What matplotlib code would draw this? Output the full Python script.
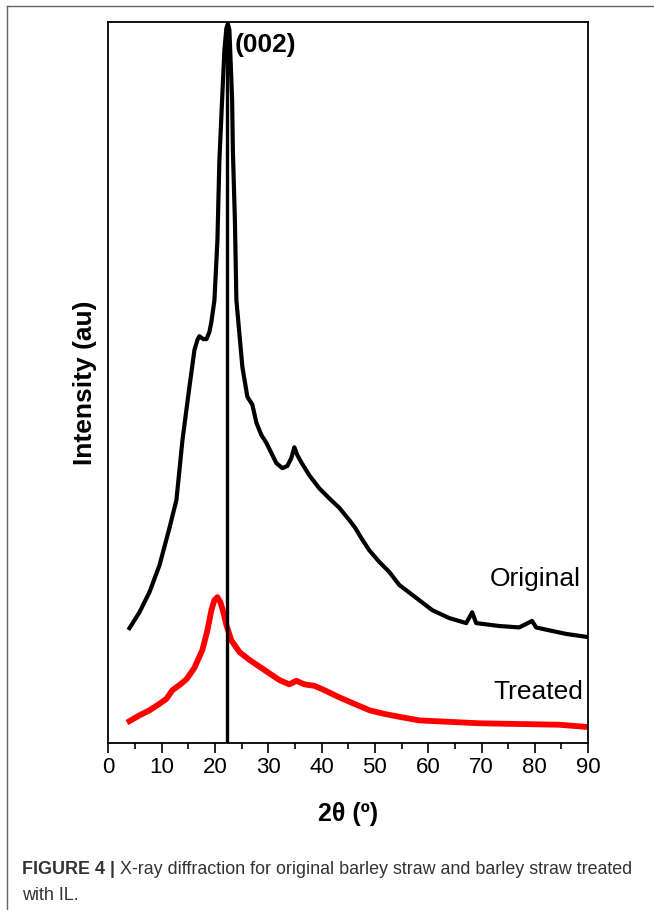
import matplotlib
matplotlib.use("Agg")
import matplotlib.pyplot as plt
from matplotlib.lines import Line2D

plt.rcParams['font.family'] = ['Liberation Sans', 'DejaVu Sans']

# 2theta (deg) and intensity (au)
orig_x = [3.94, 5.81, 7.69, 9.56, 11.44, 12.75, 13.88, 15.19, 16.13, 16.69, 17.06,
          17.81, 18.38, 18.94, 19.31, 19.88, 20.44, 20.81, 21.32, 21.75, 22.13, 22.41,
          22.69, 23.2, 23.34, 23.72, 24.0, 24.56, 25.13, 26.06, 27.0, 27.75, 28.69,
          29.63, 30.56, 31.5, 32.63, 33.56, 34.31, 34.88, 35.44, 36.19, 37.69, 39.56,
          41.44, 43.31, 45.19, 46.31, 47.44, 48.94, 50.81, 52.69, 54.56, 57.75, 60.75,
          63.94, 67.13, 68.25, 69.0, 73.31, 77.06, 79.5, 80.25, 82.69, 85.88, 89.63]
orig_y = [159, 181, 209, 246, 298, 337, 420, 494, 545, 559, 564,
          560, 560, 570, 584, 614, 697, 808, 892, 961, 992, 997,
          989, 892, 822, 725, 614, 568, 521, 480, 469, 444, 427,
          416, 402, 388, 381, 384, 395, 410, 399, 389, 371, 353,
          339, 326, 309, 298, 284, 267, 251, 237, 219, 201, 184,
          173, 166, 181, 166, 162, 160, 169, 160, 156, 151, 147]

treat_x = [3.94, 5.81, 7.69, 9.56, 10.88, 12.0, 13.31, 14.63, 16.13, 17.63, 18.56,
           19.31, 19.88, 20.44, 21.0, 21.56, 22.13, 23.06, 24.56, 26.44, 29.25, 32.06,
           33.94, 35.25, 36.75, 38.63, 40.5, 43.31, 46.13, 49.0, 51.75, 54.56, 58.31,
           63.94, 69.56, 77.06, 84.56, 89.63]
treat_y = [30, 38, 45, 54, 61, 73, 80, 88, 104, 129, 156,
           184, 198, 202, 195, 181, 163, 142, 126, 115, 101, 87,
           81, 86, 81, 79, 73, 63, 54, 45, 40, 36, 31,
           29, 27, 26, 25, 22]

peak_pos = 22.3
xticks = [0, 10, 20, 30, 40, 50, 60, 70, 80, 90]

fig = plt.figure(figsize=(6.54, 9.10), dpi=100)
ax = fig.add_axes([0.1659, 0.1838, 0.7333, 0.792])

ax.plot(orig_x, orig_y, color='black', lw=3.0, solid_joinstyle='round')
ax.plot(treat_x, treat_y, color='red', lw=4.2, solid_joinstyle='round')
ax.axvline(peak_pos, color='black', lw=2.4)

ax.set_xlim(0, 90)
ax.set_ylim(0, 1000)
ax.set_xticks(xticks)
ax.set_xticks(range(5, 90, 10), minor=True)
ax.set_yticks([])
ax.tick_params(axis='x', which='major', direction='out', length=7.5, width=1.2,
               labelsize=16, pad=3)
ax.tick_params(axis='x', which='minor', direction='out', length=4, width=1.2)
for s in ax.spines.values():
    s.set_linewidth(1.3)

ax.set_xlabel('2θ (º)', fontsize=18, fontweight='bold')
ax.xaxis.set_label_coords(0.5, -0.082)
ax.set_ylabel('Intensity (au)', fontsize=19, fontweight='bold')
ax.yaxis.set_label_coords(-0.024, 0.5)

ax.text(23.6, 968, '(002)', fontsize=19, fontweight='bold', va='center', ha='left')
ax.text(0.985, 0.227, 'Original', transform=ax.transAxes, fontsize=19,
        ha='right', va='center')
ax.text(0.99, 0.071, 'Treated', transform=ax.transAxes, fontsize=19,
        ha='right', va='center')

# page frame lines
fig.add_artist(Line2D([7/654, 7/654], [0, 1 - 6/910], color='#666666', lw=1.0))
fig.add_artist(Line2D([7/654, 1], [1 - 6/910, 1 - 6/910], color='#666666', lw=1.0))

cap_font = ['Liberation Sans Narrow', 'Liberation Sans', 'DejaVu Sans']
t1 = fig.text(22/654, 1 - 869/910, 'FIGURE 4 | ', fontsize=12.9, fontweight='bold',
              color='#333333', va='center', ha='left', family=cap_font)
ax.annotate('X-ray diffraction for original barley straw and barley straw treated',
            xy=(1, 0.5), xycoords=t1, va='center', ha='left', fontsize=12.9,
            color='#333333', family=cap_font, annotation_clip=False)
fig.text(22/654, 1 - 895/910, 'with IL.', fontsize=12.9, color='#333333',
         va='center', ha='left', family=cap_font)

fig.savefig('out.png', dpi=100)
